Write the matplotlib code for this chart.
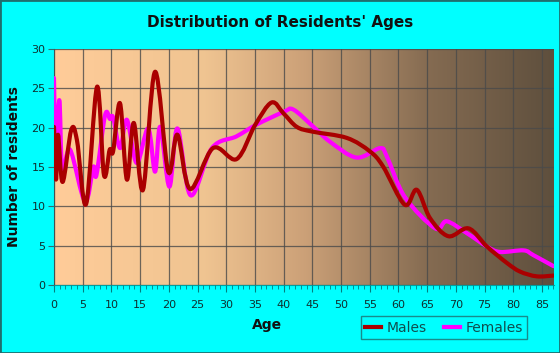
import numpy as np
import matplotlib
matplotlib.use("Agg")
from matplotlib import pyplot as plt
from matplotlib.path import Path
from matplotlib.patches import PathPatch
from matplotlib.colors import LinearSegmentedColormap

# values (age, residents)
male_age = [0.0, 0.35, 0.7, 1.5, 3.0, 4.0, 5.6, 7.5, 8.7, 9.7, 10.3, 11.5, 12.7,
            13.9, 15.5, 17.6, 19.9, 21.5, 23.7, 27.7, 31.8, 35.0, 37.9, 40.0,
            42.3, 45.0, 51.0, 55.0, 57.3, 61.1, 63.2, 65.5, 68.7, 72.2, 75.4,
            78.9, 81.2, 84.1, 87.0]
male_val = [20.1, 13.4, 19.1, 13.1, 19.7, 18.4, 10.3, 25.2, 14.0, 17.2, 17.0, 23.1,
            13.4, 20.6, 12.1, 27.1, 14.4, 19.1, 12.2, 17.4, 16.0, 20.3, 23.2,
            21.8, 20.1, 19.5, 18.7, 17.0, 15.1, 10.2, 12.1, 8.5, 6.2, 7.2, 4.9,
            2.8, 1.7, 1.1, 1.2]

female_age = [0.0, 0.3, 0.93, 1.45, 2.8, 5.4, 6.85, 7.4, 8.9, 9.75, 10.3, 11.5,
              12.7, 14.4, 16.4, 17.6, 18.5, 20.1, 21.5, 23.8, 27.5, 31.8, 35.3,
              40.0, 41.7, 45.2, 48.1, 52.7, 56.8, 58.0, 61.1, 66.4, 68.4, 71.9,
              75.4, 77.7, 81.8, 83.5, 87.0]
female_val = [26.3, 16.5, 23.5, 14.6, 17.2, 10.6, 15.0, 14.0, 21.6, 21.1, 21.3,
              17.4, 21.0, 15.5, 19.9, 14.4, 20.1, 12.5, 19.9, 11.4, 17.4, 18.9,
              20.4, 22.0, 22.3, 20.1, 18.2, 16.2, 17.4, 16.3, 11.2, 7.2, 8.1, 6.6,
              4.9, 4.2, 4.4, 3.8, 2.4]

x_ticks = list(range(0, 90, 5))
y_ticks = list(range(0, 35, 5))


def smooth_path(xs, ys):
    # Catmull-Rom through the points, drawn as cubic Bezier segments
    pts = np.column_stack([xs, ys])
    verts = [pts[0]]
    codes = [Path.MOVETO]
    n = len(pts)
    for i in range(n - 1):
        p0 = pts[max(i - 1, 0)]
        p1 = pts[i]
        p2 = pts[i + 1]
        p3 = pts[min(i + 2, n - 1)]
        c1 = p1 + (p2 - p0) / 6.0
        c2 = p2 - (p3 - p1) / 6.0
        verts += [c1, c2, p2]
        codes += [Path.CURVE4] * 3
    return Path(verts, codes)


fig = plt.figure(figsize=(5.6, 3.53), dpi=100, facecolor="#00FFFF")
ax = fig.add_axes([54 / 560, 68 / 353, 500 / 560, 236 / 353])

bg = LinearSegmentedColormap.from_list("bg", [
    (0.0, (1.0, 0.80, 0.60)),
    (0.3, (0.94, 0.77, 0.57)),
    (0.5, (0.80, 0.63, 0.47)),
    (0.75, (0.52, 0.42, 0.32)),
    (1.0, (0.37, 0.31, 0.24)),
])
ax.imshow(np.linspace(0, 1, 256)[None, :], cmap=bg, aspect="auto",
          extent=[0, 1, 0, 1], transform=ax.transAxes, zorder=0)

ax.set_xlim(0, 87.1)
ax.set_ylim(0, 30)
ax.set_xticks(x_ticks)
ax.set_yticks(y_ticks)
ax.set_xticks(np.arange(0, 88, 1), minor=True)
ax.grid(True, color="#4a4a4a", lw=0.9, alpha=0.8, zorder=1)
ax.set_axisbelow(False)

for xs, ys, col, lab in [(female_age, female_val, "#FF00FF", "Females"),
                         (male_age, male_val, "#AA0000", "Males")]:
    ax.add_patch(PathPatch(smooth_path(xs, ys), fill=False, edgecolor=col,
                           lw=3, zorder=3, capstyle="round", joinstyle="round"))

for s in ["top", "right"]:
    ax.spines[s].set_visible(False)
ax.spines["left"].set_color("#2f6f6f")
ax.spines["bottom"].set_color("#00a0a0")
ax.tick_params(axis="x", which="major", length=5, color="#008080",
               labelsize=8, labelcolor="#0f2f2f", pad=6, direction="out")
ax.tick_params(axis="x", which="minor", length=3, color="#008080", direction="out")
ax.tick_params(axis="y", length=4, color="#2f6f6f", labelsize=8,
               labelcolor="#0f2f2f", pad=2)

fig.text(0.5, 1 - 22 / 353, "Distribution of Residents' Ages", ha="center",
         va="center", fontsize=11, fontweight="bold", color="#111111")
fig.text(267 / 560, 1 - 325 / 353, "Age", ha="center", va="center",
         fontsize=10, fontweight="bold", color="#111111")
fig.text(14 / 560, 1 - 167 / 353, "Number of residents", ha="center",
         va="center", rotation=90, fontsize=10, fontweight="bold",
         color="#111111")

male_h, = ax.plot([], [], color="#AA0000", lw=3)
fem_h, = ax.plot([], [], color="#FF00FF", lw=3)
leg = fig.legend([male_h, fem_h], ["Males", "Females"], ncol=2,
                 loc="center", bbox_to_anchor=(444 / 560, 1 - 327.5 / 353),
                 frameon=True, fancybox=False, fontsize=10, handlelength=1.2,
                 handletextpad=0.4, columnspacing=1.2, borderpad=0.3,
                 facecolor="#00FFFF", edgecolor="#1f6f6f")
for t in leg.get_texts():
    t.set_color("#0f4f4f")

fig.patches.append(plt.Rectangle((0, 0), 1, 1, transform=fig.transFigure,
                                 fill=False, edgecolor="#1f6f6f", lw=2))

plt.savefig("out.png", dpi=100, facecolor=fig.get_facecolor())
